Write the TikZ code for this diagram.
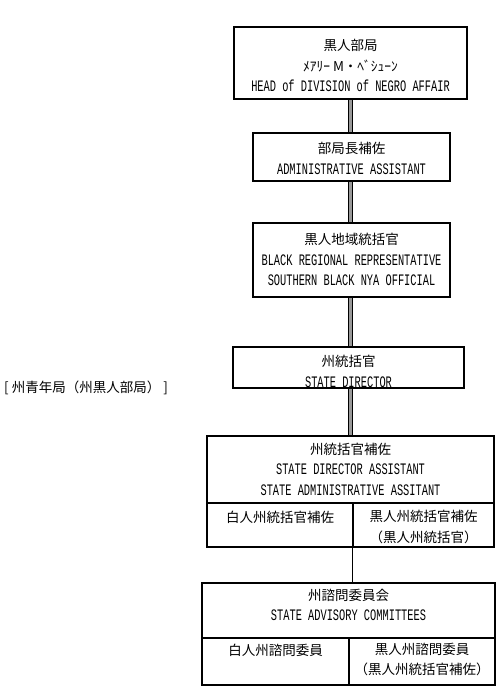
\documentclass[tikz,border=0pt]{standalone}
\usepackage{fontspec}
\usepackage{tikz}
\usetikzlibrary{positioning, backgrounds}
\newfontfamily\jpfont{Noto Sans CJK JP}
\newfontfamily\enfont[FakeStretch=0.646]{Liberation Mono}
\newcommand{\jp}{\jpfont\fontsize{13.5}{20.5}\selectfont}
\newcommand{\en}{\enfont\fontsize{16}{20.5}\selectfont}

\begin{document}
\begin{tikzpicture}[
    x=1pt, y=-1pt,
    box/.style={draw, line width=1.1pt, fill=white, inner sep=0pt},
    txt/.style={align=center, inner sep=0pt, font=\jp},
    bar/.style={draw=black, line width=1pt, double=black!40, double distance=3.8pt},
    link/.style={draw, line width=1.1pt}
]
\useasboundingbox (0,0) rectangle (496,698);

% Upper chain
\node[box, minimum width=233pt, minimum height=72pt] (head) at (350.5,63) {};
\node[box, minimum width=197pt, minimum height=48pt] (asst) at (351.5,157) {};
\node[box, minimum width=197pt, minimum height=74pt] (regn) at (351.5,260) {};
\node[box, minimum width=231pt, minimum height=41pt] (sdir) at (348.5,367.5) {};

% State director assistant
\node[box, minimum width=287pt, minimum height=67pt] (sdas) at (350.5,469.5) {};
\node[box, minimum width=146pt, minimum height=44pt] (sdaw) at (280,525) {};
\node[box, minimum width=141pt, minimum height=44pt] (sdab) at (423.5,525) {};

% State advisory committees
\node[box, minimum width=293pt, minimum height=55pt] (advc) at (348.5,610.5) {};
\node[box, minimum width=147pt, minimum height=47pt] (advw) at (275.5,661.5) {};
\node[box, minimum width=146pt, minimum height=47pt] (advb) at (422,661.5) {};

% Texts
\node[txt] (thead) at (350.5,65.5) {黒人部局\\ ﾒｱﾘｰ M・ﾍﾞｼｭｰﾝ\\ \en HEAD of DIVISION of NEGRO AFFAIR};
\node[txt] (tasst) at (351.5,158.5) {部局長補佐\\ \en ADMINISTRATIVE ASSISTANT};
\node[txt] (tregn) at (351.5,259.5) {黒人地域統括官\\ \en BLACK REGIONAL REPRESENTATIVE\\ \en SOUTHERN BLACK NYA OFFICIAL};
\node[txt] (tsdir) at (348.5,371.5) {州統括官\\ \en STATE DIRECTOR};
\node[txt] (tsdas) at (350.5,469) {州統括官補佐\\ \en STATE DIRECTOR ASSISTANT\\ \en STATE ADMINISTRATIVE ASSITANT};
\node[txt] (tsdaw) at (280,517) {白人州統括官補佐};
\node[txt] (tsdab) at (423.5,527) {黒人州統括官補佐\\ （黒人州統括官）};
\node[txt] (tadvc) at (348.5,605) {州諮問委員会\\ \en STATE ADVISORY COMMITTEES};
\node[txt] (tadvw) at (275.5,650) {白人州諮問委員};
\node[txt] (tadvb) at (422,659.5) {黒人州諮問委員\\ （黒人州統括官補佐）};
\node[txt, anchor=west] (side) at (4,388) {[\ 州青年局（州黒人部局）\ ]};

% Connectors
\begin{scope}[on background layer]
\draw[bar] (head.south) -- (head.south |- sdas.north);
\end{scope}
\draw[link] (sdab.south west) -- (sdab.south west |- advc.north);

\end{tikzpicture}
\end{document}
